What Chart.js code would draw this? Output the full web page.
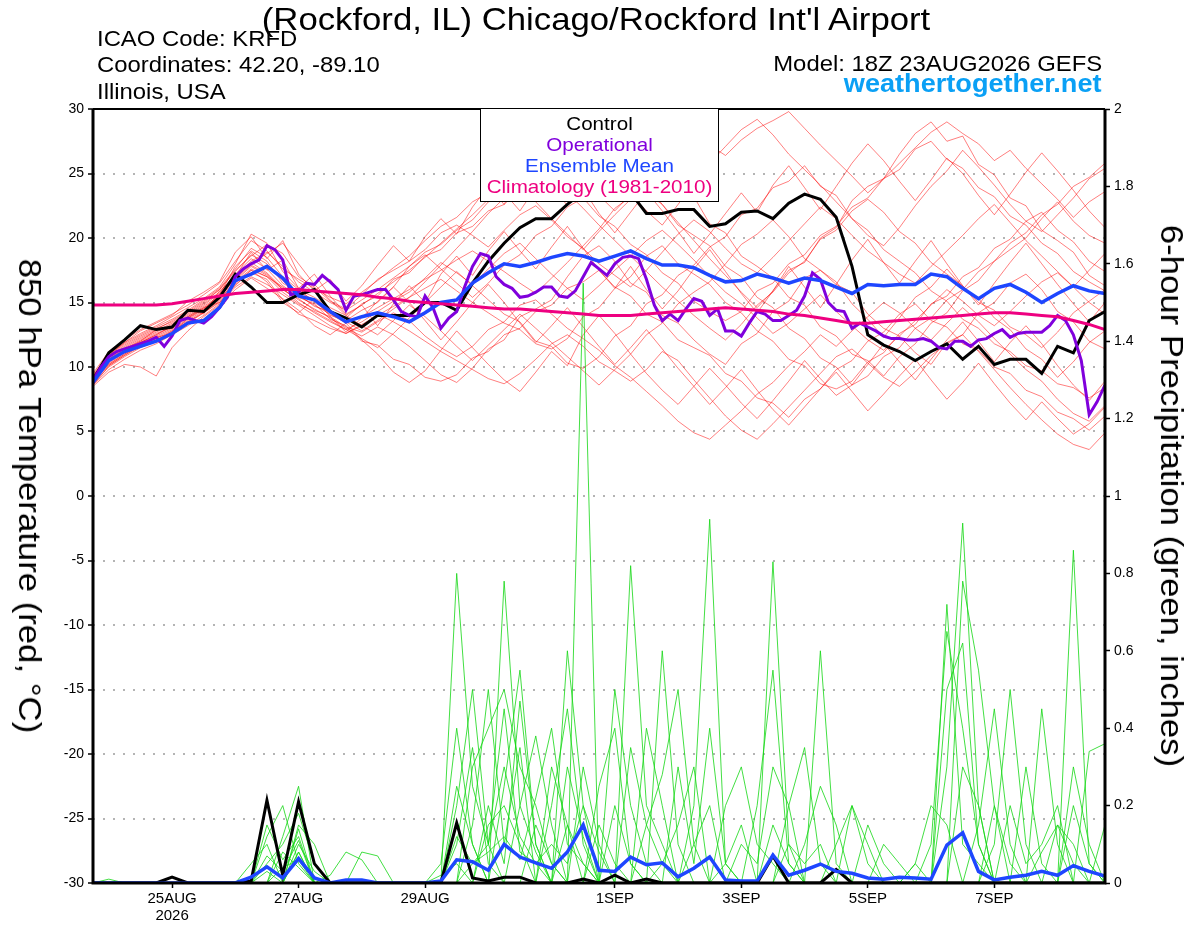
<!DOCTYPE html>
<html>
<head>
<meta charset="utf-8">
<title>KRFD GEFS meteogram</title>
<script src="https://cdn.jsdelivr.net/npm/chart.js@4.4.1/dist/chart.umd.min.js"></script>
<style>
  body { margin: 0; background: #fff; font-family: "Liberation Sans", Arial, sans-serif; }
  #wrap { position: relative; width: 1200px; height: 927px; overflow: hidden; }
  #chart { position: absolute; left: 0; top: 0; }
  .t { position: absolute; white-space: nowrap; line-height: 1; color: #000; }
  .left { transform-origin: left center; transform: scaleX(1.085); }
  .right { transform-origin: right center; transform: scaleX(1.085); text-align: right; }
  .rot { position: absolute; white-space: nowrap; line-height: 1; font-size: 32px;
         transform: translate(-50%, -50%) rotate(90deg) scaleX(1.085); }
  #legend { position: absolute; left: 480px; top: 108px; width: 237px; height: 88px;
            background: #fff; border: 1px solid #000; padding-top: 4px; }
  #legend div { font-size: 19px; line-height: 21px; text-align: center; transform: scaleX(1.085); white-space: nowrap; }
</style>
</head>
<body>
<div id="wrap">
  <canvas id="chart" width="1200" height="927"></canvas>

  <div class="t" style="left:596px;top:3px;font-size:32px;transform:translateX(-50%) scaleX(1.085);">(Rockford, IL) Chicago/Rockford Int'l Airport</div>
  <div class="t left" style="left:97px;top:28px;font-size:22px;">ICAO Code: KRFD</div>
  <div class="t left" style="left:97px;top:54px;font-size:22px;">Coordinates: 42.20, -89.10</div>
  <div class="t left" style="left:97px;top:81px;font-size:22px;">Illinois, USA</div>
  <div class="t right" style="right:98px;top:53px;font-size:22px;">Model: 18Z 23AUG2026 GEFS</div>
  <div class="t right" style="right:98px;top:71px;font-size:25px;font-weight:bold;color:#0aa0f5;">weathertogether.net</div>

  <div class="rot" style="left:30px;top:496px;">850 hPa Temperature (red, °C)</div>
  <div class="rot" style="left:1172px;top:496px;">6-hour Precipitation (green, inches)</div>

  <div id="legend">
    <div style="color:#000;">Control</div>
    <div style="color:#8000dc;">Operational</div>
    <div style="color:#1e46ff;">Ensemble Mean</div>
    <div style="color:#ee0080;">Climatology (1981-2010)</div>
  </div>
</div>

<script>
// forecast hours: 6-hourly from 18Z 23AUG2026 (operational run is 3-hourly)
const tickHours = [30, 78, 126, 198, 246, 294, 342];
const tickLabels = ['25AUG', '27AUG', '29AUG', '1SEP', '3SEP', '5SEP', '7SEP'];
const tickYear = '2026';

// 850 hPa temperature, deg C
const controlTemp = [
  9.0, 11.1, 12.1, 13.2, 12.9, 13.1, 14.4, 14.3, 15.4, 17.2, 16.2, 15.0, 15.0,
  15.6, 16.0, 14.3, 13.8, 13.1, 14.0, 14.0, 14.0, 15.0, 15.0, 14.4, 16.5, 18.2,
  19.6, 20.8, 21.5, 21.5, 22.6, 23.6, 24.6, 24.2, 23.5, 21.9, 21.9, 22.2, 22.2,
  20.9, 21.1, 22.0, 22.1, 21.5, 22.7, 23.4, 23.0, 21.6, 17.8, 12.5, 11.7, 11.2,
  10.5, 11.2, 11.8, 10.6, 11.6, 10.2, 10.6, 10.6, 9.5, 11.6, 11.1, 13.6, 14.3
];
const operationalTemp = [
  9.0, 10.0, 10.8, 11.2, 11.4, 11.6, 11.8, 12.0, 12.3, 11.6, 12.4, 13.6, 13.8, 13.6, 13.4, 13.9,
  14.6, 15.4, 17.0, 17.6, 18.0, 18.3, 19.4, 19.1, 18.3, 15.6, 15.8, 16.5, 16.4, 17.1, 16.6, 16.0,
  14.4, 15.5, 15.6, 15.8, 16.0, 16.0, 15.2, 14.3, 14.0, 13.9, 15.5, 14.6, 13.0, 13.8, 14.3, 16.2,
  17.8, 18.8, 18.6, 17.0, 16.4, 16.1, 15.4, 15.5, 15.8, 16.2, 16.2, 15.5, 15.4, 15.9, 17.0, 18.1,
  17.6, 17.1, 18.0, 18.5, 18.6, 18.4, 16.8, 14.8, 13.6, 14.1, 13.6, 14.5, 15.3, 15.1, 14.0, 14.5,
  12.8, 12.8, 12.4, 13.4, 14.3, 14.1, 13.6, 13.6, 14.0, 14.4, 15.5, 17.3, 16.8, 15.0, 14.4, 14.3,
  13.0, 13.4, 13.1, 12.8, 12.4, 12.2, 12.2, 12.1, 12.1, 12.2, 12.0, 11.5, 11.4, 12.0, 12.0, 11.6,
  12.1, 12.2, 12.6, 12.9, 12.3, 12.6, 12.7, 12.7, 12.7, 13.2, 14.0, 13.6, 12.5, 10.5, 6.3, 7.3,
  8.6
];
const meanTemp = [
  8.8, 10.5, 11.2, 11.6, 12.0, 12.6, 13.4, 13.6, 14.6, 16.7, 17.2, 17.8, 16.9,
  15.5, 15.2, 14.3, 13.5, 13.9, 14.2, 13.9, 13.5, 14.2, 15.0, 15.2, 16.5, 17.3,
  18.0, 17.8, 18.1, 18.5, 18.8, 18.6, 18.2, 18.6, 19.0, 18.4, 17.9, 17.9, 17.7,
  17.1, 16.6, 16.7, 17.2, 16.9, 16.5, 16.9, 16.7, 16.2, 15.7, 16.4, 16.3, 16.4,
  16.4, 17.2, 17.0, 16.1, 15.3, 16.1, 16.4, 15.8, 15.0, 15.7, 16.3, 15.9, 15.7
];
const climoTemp = [
  14.8, 14.8, 14.8, 14.8, 14.8, 14.9, 15.1, 15.3, 15.5, 15.7, 15.8, 15.9, 16.0,
  16.0, 15.9, 15.8, 15.7, 15.6, 15.4, 15.3, 15.1, 15.0, 14.9, 14.8, 14.7, 14.6,
  14.5, 14.5, 14.4, 14.3, 14.2, 14.1, 14.0, 14.0, 14.0, 14.1, 14.2, 14.3, 14.4,
  14.5, 14.6, 14.5, 14.4, 14.3, 14.1, 14.0, 13.8, 13.6, 13.4, 13.4, 13.5, 13.6,
  13.7, 13.8, 13.9, 14.0, 14.1, 14.2, 14.2, 14.1, 14.0, 13.9, 13.6, 13.3, 12.9
];

// ensemble members, 850 hPa temperature
const memberT01 = [
  9.2, 10.5, 11.3, 12.0, 12.6, 13.1, 13.8, 14.5, 15.6, 17.8, 19.0, 18.2, 16.5,
  15.8, 15.2, 14.0, 13.6, 14.4, 15.0, 16.2, 17.8, 18.9, 19.5, 20.6, 21.4, 22.8,
  23.5, 22.1, 23.9, 24.6, 23.2, 25.1, 26.3, 25.0, 23.4, 22.1, 21.0, 22.6, 24.3,
  25.8, 27.1, 28.4, 29.2, 28.0, 26.5, 25.3, 24.1, 22.8, 21.5, 20.2, 19.4, 20.8,
  22.5, 24.0, 25.2, 26.8, 25.5, 24.1, 22.6, 21.3, 20.5, 21.8, 23.1, 24.6, 25.4
];
const memberT02 = [
  8.7, 10.0, 10.8, 11.5, 12.0, 12.8, 13.5, 14.2, 15.0, 16.4, 17.3, 16.8, 15.2,
  14.1, 13.6, 13.0, 12.6, 13.2, 14.1, 13.5, 12.8, 12.0, 11.2, 10.5, 9.8, 9.1,
  8.7, 9.5, 10.6, 11.8, 12.5, 11.6, 10.4, 9.7, 8.9, 9.8, 11.2, 10.5, 9.0,
  7.6, 6.2, 5.1, 4.4, 5.6, 6.9, 8.2, 9.5, 10.8, 11.4, 10.3, 9.2, 8.5,
  9.6, 10.9, 11.8, 12.5, 11.2, 9.8, 8.4, 7.1, 5.9, 4.8, 4.0, 3.6, 4.9
];
const memberT03 = [
  9.0, 10.8, 11.7, 12.4, 13.0, 13.5, 14.2, 15.0, 16.0, 17.5, 18.6, 19.5, 18.8,
  17.0, 16.2, 15.1, 14.5, 15.6, 16.8, 17.5, 18.2, 19.1, 20.4, 21.0, 20.2, 19.3,
  20.6, 21.8, 22.5, 21.4, 20.1, 19.2, 18.0, 17.1, 16.2, 17.5, 18.9, 20.3, 21.4,
  20.5, 19.2, 18.0, 17.3, 18.5, 19.8, 21.1, 22.4, 21.5, 20.2, 19.0, 18.1, 17.2,
  16.5, 17.8, 19.0, 20.2, 21.5, 22.6, 21.2, 19.8, 18.6, 17.4, 16.2, 17.5, 18.8
];
const memberT04 = [
  9.4, 11.0, 11.9, 12.6, 13.2, 13.9, 14.6, 15.3, 16.2, 18.0, 20.3, 19.6, 17.4,
  16.1, 15.0, 14.2, 13.5, 12.8, 13.6, 14.5, 15.4, 16.6, 17.9, 19.2, 20.5, 21.9,
  23.1, 24.2, 22.8, 21.5, 20.3, 19.1, 20.5, 21.8, 23.0, 24.1, 22.6, 21.2, 19.8,
  18.4, 17.1, 15.8, 14.6, 15.9, 17.5, 18.1, 20.0, 20.8, 22.9, 24.0, 24.6, 26.5,
  28.1, 29.0, 27.5, 27.9, 25.7, 24.9, 23.1, 22.5, 20.6, 19.8, 18.9, 17.1, 16.3
];
const memberT05 = [
  8.9, 10.2, 11.0, 11.8, 12.3, 12.9, 13.6, 14.4, 15.4, 16.8, 17.9, 17.2, 16.0,
  15.2, 14.5, 13.8, 13.0, 12.4, 13.1, 12.5, 11.6, 10.5, 9.4, 8.8, 9.9, 11.4,
  12.1, 13.9, 14.5, 15.2, 17.0, 18.6, 19.4, 18.2, 16.5, 15.8, 14.0, 13.4, 12.1,
  11.0, 10.2, 11.8, 12.6, 14.3, 15.1, 16.9, 17.5, 16.4, 15.8, 14.1, 13.0, 12.4,
  11.1, 10.2, 11.9, 12.5, 14.2, 15.0, 16.5, 17.2, 16.0, 14.3, 13.5, 12.0, 11.4
];
const memberT06 = [
  9.1, 10.6, 11.5, 12.2, 12.8, 13.4, 14.1, 14.9, 15.8, 17.2, 18.4, 17.6, 16.3,
  15.5, 14.8, 14.1, 13.4, 13.9, 14.6, 15.3, 16.0, 16.8, 17.5, 18.3, 19.0, 18.2,
  17.4, 16.5, 15.7, 16.9, 18.1, 19.4, 20.7, 22.3, 23.2, 24.1, 25.6, 24.3, 23.2,
  21.1, 20.4, 18.6, 17.8, 16.9, 15.4, 14.8, 13.1, 12.4, 11.0, 10.5, 9.3, 10.8,
  11.8, 13.4, 14.2, 15.9, 16.7, 18.2, 19.1, 20.0, 21.5, 22.8, 21.3, 20.2, 19.6
];
const memberT07 = [
  8.8, 10.3, 11.1, 11.9, 12.5, 13.2, 13.9, 14.7, 15.5, 16.9, 18.0, 18.8, 19.6,
  18.0, 16.4, 15.2, 14.0, 13.2, 12.5, 13.6, 14.8, 13.9, 12.8, 11.6, 10.5, 11.7,
  12.9, 14.1, 13.0, 11.9, 10.8, 9.7, 8.6, 9.8, 11.0, 12.5, 13.4, 14.9, 15.8,
  16.6, 18.0, 19.5, 20.3, 21.4, 20.1, 18.4, 17.5, 16.6, 14.9, 13.7, 12.3, 13.8,
  15.4, 16.2, 17.6, 16.2, 15.3, 13.8, 12.9, 11.4, 10.6, 9.2, 10.4, 11.9, 12.8
];
const memberT08 = [
  9.3, 10.9, 11.8, 12.5, 13.1, 13.7, 14.4, 15.2, 16.1, 17.6, 19.2, 18.5, 17.0,
  16.0, 15.4, 14.6, 14.0, 14.8, 15.7, 16.6, 17.5, 18.5, 19.6, 20.7, 21.8, 23.0,
  24.1, 25.2, 26.0, 24.8, 23.5, 22.3, 21.0, 19.8, 18.6, 17.4, 16.2, 15.1, 14.0,
  13.0, 12.1, 13.3, 14.8, 15.8, 17.3, 18.2, 19.9, 20.6, 22.1, 23.0, 22.0, 20.5,
  19.6, 18.1, 17.2, 16.3, 15.0, 14.4, 13.1, 12.5, 11.5, 12.7, 14.2, 15.1, 16.0
];
const memberT09 = [
  9.0, 10.4, 11.2, 11.9, 12.4, 13.0, 13.7, 14.5, 15.3, 16.6, 17.6, 17.0, 15.8,
  14.9, 14.3, 13.6, 12.9, 12.2, 11.5, 12.6, 13.8, 15.0, 16.2, 17.4, 16.3, 15.2,
  14.1, 13.5, 12.0, 11.6, 10.3, 9.9, 10.8, 12.4, 13.2, 14.9, 15.6, 17.1, 17.9,
  19.3, 20.1, 21.8, 22.3, 23.9, 24.4, 25.6, 24.0, 23.3, 21.5, 20.6, 19.1, 18.2,
  17.3, 15.9, 15.1, 13.7, 13.0, 11.8, 11.2, 10.1, 9.7, 8.7, 8.4, 7.6, 8.4
];
const memberT10 = [
  8.6, 9.8, 10.6, 11.3, 11.8, 12.5, 13.2, 14.0, 14.9, 16.2, 17.0, 16.4, 15.6,
  14.8, 14.0, 13.2, 12.6, 13.3, 14.0, 14.7, 15.4, 16.1, 16.8, 15.9, 15.0, 14.2,
  13.4, 12.9, 11.8, 11.4, 12.2, 13.9, 14.6, 16.1, 17.0, 18.6, 19.4, 18.0, 17.2,
  16.4, 15.0, 14.2, 12.8, 12.0, 10.6, 10.1, 8.7, 8.3, 8.9, 10.4, 11.1, 12.6,
  13.3, 14.9, 15.5, 17.0, 17.7, 19.2, 19.9, 21.3, 22.0, 20.6, 19.7, 18.2, 17.4
];
const memberT11 = [
  9.2, 10.7, 11.6, 12.3, 12.9, 13.6, 14.3, 15.1, 16.0, 17.4, 18.7, 18.0, 16.7,
  15.6, 14.7, 14.3, 13.8, 14.9, 15.5, 16.8, 17.3, 18.6, 19.1, 20.4, 20.9, 22.1,
  22.6, 23.8, 24.2, 25.4, 25.8, 26.9, 27.4, 26.0, 25.0, 23.5, 22.6, 21.0, 20.2,
  19.4, 17.8, 17.0, 15.4, 14.6, 13.0, 12.2, 10.7, 10.0, 8.6, 9.3, 10.8, 11.5,
  13.0, 13.8, 15.2, 16.0, 17.4, 18.2, 19.6, 20.4, 21.8, 22.6, 24.0, 24.7, 25.8
];
const memberT12 = [
  8.9, 10.1, 10.9, 11.6, 12.1, 12.7, 13.4, 14.2, 15.1, 16.5, 17.5, 17.0, 16.2,
  15.4, 14.9, 13.7, 13.2, 12.0, 11.7, 10.6, 10.2, 9.2, 8.9, 9.4, 10.7, 11.2,
  12.5, 13.0, 14.3, 14.8, 16.1, 16.6, 17.5, 16.2, 15.5, 14.1, 13.5, 12.1, 11.5,
  10.9, 9.5, 8.9, 7.6, 7.2, 6.1, 7.5, 8.3, 9.8, 10.5, 12.0, 12.7, 14.1,
  14.9, 13.6, 13.1, 11.8, 11.3, 10.0, 9.5, 8.2, 7.7, 6.5, 6.0, 5.1, 6.2
];
const memberT13 = [
  9.1, 10.5, 11.4, 12.1, 12.7, 13.3, 14.0, 14.8, 15.7, 17.1, 18.2, 18.9, 17.8,
  16.6, 15.8, 15.0, 14.4, 15.2, 16.0, 16.9, 17.8, 18.7, 17.6, 16.5, 15.4, 16.5,
  17.9, 18.7, 20.2, 20.9, 22.4, 23.1, 21.7, 20.9, 19.5, 18.7, 17.3, 16.5, 15.1,
  14.3, 13.6, 14.3, 15.9, 16.5, 18.0, 18.7, 20.2, 20.9, 22.4, 23.1, 24.6, 25.3,
  26.9, 27.5, 26.1, 25.4, 23.9, 23.2, 21.7, 21.0, 19.6, 18.8, 17.4, 16.6, 15.9
];
const memberT14 = [
  9.0, 10.2, 11.0, 11.7, 12.2, 12.8, 13.5, 14.3, 15.2, 16.7, 17.8, 17.1, 16.0,
  15.3, 14.4, 13.9, 13.1, 12.7, 13.5, 14.2, 13.6, 12.4, 11.5, 10.8, 11.6, 12.9,
  13.5, 14.8, 15.2, 14.1, 13.0, 12.2, 11.3, 10.1, 9.2, 8.1, 7.0, 5.8, 4.9,
  4.4, 5.5, 6.6, 7.9, 8.8, 10.1, 11.2, 12.5, 11.6, 12.8, 13.9, 15.0, 14.2,
  13.0, 12.1, 13.4, 14.6, 13.5, 12.2, 11.0, 9.8, 8.9, 7.5, 6.4, 5.8, 7.0
];
const memberT15 = [
  9.5, 11.2, 12.1, 12.9, 13.5, 14.1, 14.8, 15.6, 16.5, 18.2, 19.8, 19.0, 17.6,
  16.8, 16.1, 15.4, 14.9, 15.8, 16.7, 17.7, 18.6, 19.8, 20.9, 21.6, 22.8, 23.5,
  24.4, 23.6, 22.9, 24.0, 25.2, 24.5, 23.3, 22.1, 23.4, 24.8, 25.9, 27.0, 28.1,
  27.2, 26.4, 27.6, 28.5, 29.1, 29.8, 28.5, 27.2, 26.0, 24.8, 23.5, 24.6, 25.8,
  27.0, 28.2, 29.0, 28.1, 27.3, 26.0, 26.8, 25.4, 24.2, 23.0, 21.6, 22.8, 23.6
];
const memberT16 = [
  8.8, 10.4, 11.2, 11.9, 12.5, 13.1, 13.9, 14.6, 15.4, 16.9, 18.1, 17.3, 16.1,
  15.0, 14.2, 13.5, 12.9, 13.5, 14.3, 15.1, 15.8, 16.9, 18.1, 17.3, 16.4, 17.6,
  18.8, 19.6, 18.4, 17.2, 16.1, 15.2, 16.3, 17.5, 18.6, 19.8, 20.6, 19.5, 18.3,
  17.0, 15.8, 14.9, 13.8, 12.6, 13.4, 14.5, 15.6, 14.3, 13.2, 12.1, 11.3, 12.4,
  13.6, 14.8, 16.0, 15.1, 14.0, 13.2, 14.3, 15.5, 16.6, 17.3, 16.2, 15.0, 14.1
];
const memberT17 = [
  8.5, 9.6, 10.2, 10.0, 9.3, 11.5, 12.8, 13.9, 14.8, 16.0, 16.9, 16.1, 15.3,
  14.4, 13.2, 12.5, 13.4, 12.1, 11.0, 9.6, 8.8, 9.7, 11.3, 12.8, 11.5, 10.2,
  9.0, 8.1, 9.6, 11.2, 10.1, 12.5, 14.0, 12.6, 11.0, 9.5, 8.2, 7.1, 8.5,
  9.9, 8.6, 7.2, 6.0, 7.4, 8.9, 10.5, 9.1, 7.8, 8.6, 10.2, 11.8, 10.4,
  9.0, 10.6, 12.1, 13.5, 12.0, 10.4, 11.9, 13.2, 11.8, 10.1, 8.6, 7.4, 8.9
];
const memberT18 = [
  9.3, 10.9, 11.9, 12.8, 13.4, 14.0, 15.1, 15.8, 16.6, 18.9, 20.1, 18.4, 19.8,
  17.2, 15.9, 16.8, 15.1, 16.3, 17.9, 19.4, 18.2, 20.1, 21.5, 20.3, 22.4, 24.0,
  22.6, 24.8, 25.9, 24.1, 22.5, 23.8, 21.9, 20.4, 22.0, 23.6, 22.1, 20.5, 18.8,
  20.3, 21.9, 23.5, 22.0, 24.1, 25.6, 23.9, 22.2, 24.0, 25.8, 27.3, 26.0, 24.4,
  22.9, 24.5, 26.2, 25.0, 23.3, 21.8, 23.4, 25.1, 26.6, 25.2, 23.7, 22.1, 20.8
];
const memberT19 = [
  9.0, 10.6, 11.4, 12.0, 12.9, 13.0, 14.5, 14.1, 15.9, 17.0, 18.9, 17.5, 18.3,
  16.1, 17.2, 15.5, 14.1, 14.8, 13.2, 14.9, 16.3, 15.0, 17.2, 18.6, 17.1, 19.0,
  20.5, 19.0, 17.6, 19.3, 20.9, 19.2, 17.5, 16.1, 17.8, 16.0, 14.5, 15.9, 17.6,
  19.1, 17.4, 15.7, 14.2, 15.9, 17.8, 16.2, 14.6, 16.4, 18.3, 19.9, 18.1, 16.5,
  18.2, 19.8, 18.0, 16.3, 14.8, 16.5, 18.1, 19.6, 18.0, 16.4, 14.9, 13.5, 15.0
];
const memberT20 = [
  8.6, 10.1, 10.9, 11.7, 12.3, 12.6, 13.8, 14.6, 15.0, 16.3, 17.5, 16.6, 15.0,
  14.2, 15.3, 13.9, 12.7, 13.8, 15.1, 16.2, 15.0, 13.6, 12.1, 13.5, 15.0, 16.4,
  15.0, 13.4, 11.9, 13.2, 14.6, 13.1, 11.6, 10.2, 11.5, 12.9, 11.4, 9.9, 8.5,
  7.1, 8.4, 9.8, 8.2, 6.7, 5.5, 6.9, 8.3, 9.6, 8.1, 6.6, 7.9, 9.3,
  10.6, 9.0, 7.5, 8.8, 10.3, 8.7, 7.2, 5.9, 7.3, 6.0, 4.8, 5.6, 6.9
];

// 6-hour precipitation, inches
const controlPrecip = [
  0, 0, 0, 0, 0, 0.015, 0, 0, 0, 0, 0.005, 0.214, 0.02,
  0.21, 0.05, 0, 0, 0, 0, 0, 0, 0, 0, 0.155, 0.013, 0.005,
  0.015, 0.015, 0, 0, 0, 0.01, 0, 0.02, 0, 0.01, 0, 0, 0,
  0, 0, 0, 0, 0.07, 0, 0, 0, 0.035, 0, 0, 0, 0,
  0, 0, 0, 0, 0, 0, 0, 0, 0, 0, 0, 0, 0
];
const meanPrecip = [
  0, 0, 0, 0, 0, 0, 0, 0, 0, 0, 0.015, 0.042, 0.013,
  0.063, 0.013, 0, 0.008, 0.008, 0, 0, 0, 0, 0.005, 0.06, 0.055, 0.033,
  0.10, 0.067, 0.052, 0.038, 0.08, 0.15, 0.033, 0.03, 0.067, 0.047, 0.052, 0.016, 0.038,
  0.067, 0.008, 0.005, 0.005, 0.072, 0.02, 0.033, 0.049, 0.03, 0.025, 0.013, 0.01, 0.015,
  0.013, 0.01, 0.098, 0.13, 0.03, 0.008, 0.015, 0.02, 0.03, 0.02, 0.045, 0.03, 0.018
];

// ensemble members, 6-hour precipitation
const memberP01 = [
  0, 0, 0, 0, 0, 0, 0, 0, 0, 0, 0, 0.05, 0.1,
  0.18, 0.05, 0, 0, 0, 0, 0, 0, 0, 0, 0.8, 0.25, 0.1,
  0.3, 0.12, 0.05, 0.1, 0.05, 0.2, 0.08, 0, 0, 0, 0, 0, 0,
  0, 0, 0, 0, 0.83, 0.1, 0, 0, 0, 0, 0, 0, 0,
  0, 0, 0.3, 0.93, 0.2, 0, 0, 0, 0, 0, 0, 0, 0
];
const memberP02 = [
  0, 0, 0, 0, 0, 0, 0, 0, 0, 0, 0, 0, 0.12,
  0.25, 0, 0, 0, 0, 0, 0, 0, 0, 0, 0, 0.15, 0.5,
  0.1, 0.35, 0, 0, 0, 1.55, 0, 0, 0.82, 0.2, 0.1, 0, 0,
  0, 0, 0, 0, 0, 0, 0, 0.6, 0.05, 0, 0, 0, 0,
  0, 0, 0, 0, 0, 0, 0, 0, 0, 0, 0.86, 0.05, 0
];
const memberP03 = [
  0, 0, 0, 0, 0, 0, 0, 0, 0, 0, 0, 0.15, 0.06,
  0.12, 0, 0, 0, 0, 0, 0, 0, 0, 0, 0.25, 0.1, 0,
  0.78, 0.2, 0.38, 0.15, 0, 0, 0, 0.2, 0.05, 0, 0.6, 0.1, 0,
  0, 0, 0, 0, 0, 0, 0, 0, 0, 0, 0, 0, 0,
  0, 0.1, 0.65, 0.4, 0.1, 0, 0, 0, 0.45, 0.1, 0, 0, 0
];
const memberP04 = [
  0, 0.01, 0, 0, 0, 0, 0, 0, 0, 0, 0.05, 0.1, 0,
  0.08, 0, 0, 0, 0, 0, 0, 0, 0, 0.02, 0.05, 0, 0.2,
  0.05, 0.47, 0.1, 0, 0.3, 0.12, 0, 0, 0, 0, 0, 0, 0.2,
  0.94, 0.05, 0, 0, 0, 0, 0, 0, 0, 0, 0.15, 0.05, 0,
  0, 0, 0, 0, 0, 0.1, 0.5, 0.1, 0, 0, 0, 0, 0
];
const memberP05 = [
  0, 0, 0, 0, 0, 0, 0, 0, 0, 0, 0, 0, 0,
  0.15, 0.1, 0, 0, 0, 0, 0, 0, 0, 0, 0, 0.3, 0.4,
  0.5, 0.3, 0.2, 0.05, 0, 0, 0.25, 0.4, 0.05, 0, 0, 0, 0,
  0, 0, 0.1, 0.05, 0.3, 0.2, 0, 0, 0, 0, 0, 0, 0,
  0, 0, 0.72, 0.1, 0.05, 0, 0, 0, 0, 0, 0, 0.34, 0.36
];
const memberP06 = [
  0, 0, 0, 0, 0, 0, 0, 0, 0, 0, 0, 0.07, 0.03,
  0.11, 0, 0, 0, 0, 0, 0, 0, 0, 0, 0.12, 0.05, 0.08,
  0.12, 0.06, 0.22, 0.4, 0.1, 0.05, 0, 0, 0, 0.15, 0.28, 0.5, 0.1,
  0, 0, 0, 0, 0, 0, 0.1, 0.25, 0.15, 0, 0, 0, 0,
  0, 0, 0, 0.78, 0.55, 0.2, 0, 0, 0, 0.15, 0.05, 0, 0
];
const memberP07 = [
  0, 0, 0, 0, 0, 0, 0, 0, 0, 0, 0, 0, 0,
  0.08, 0, 0.02, 0.08, 0.06, 0, 0, 0, 0, 0, 0, 0.05, 0.1,
  0.45, 0.08, 0.05, 0, 0.6, 0.2, 0, 0, 0, 0, 0, 0.3, 0.05,
  0.4, 0.05, 0, 0, 0, 0.2, 0.35, 0.05, 0, 0, 0, 0, 0,
  0.05, 0.2, 0.15, 0, 0, 0, 0, 0.3, 0.05, 0, 0, 0, 0
];
const memberP08 = [
  0, 0, 0, 0, 0, 0, 0, 0, 0, 0, 0, 0, 0.04,
  0.06, 0, 0, 0, 0, 0, 0, 0, 0, 0, 0.1, 0.35, 0.05,
  0, 0, 0, 0.2, 0.45, 0.1, 0, 0.5, 0.2, 0.05, 0, 0, 0,
  0, 0.2, 0.3, 0.1, 0.05, 0, 0, 0, 0, 0.2, 0.1, 0, 0,
  0, 0, 0, 0, 0.15, 0.45, 0.1, 0, 0, 0, 0.2, 0.05, 0
];
const memberP09 = [
  0, 0, 0, 0, 0, 0, 0, 0, 0, 0, 0, 0.03, 0,
  0.14, 0, 0, 0, 0, 0, 0, 0, 0, 0.05, 0.4, 0.1, 0,
  0, 0.2, 0.08, 0, 0, 0.3, 0.1, 0, 0, 0, 0.05, 0.15, 0.3,
  0, 0, 0, 0.2, 0.55, 0.05, 0, 0, 0.1, 0.2, 0.05, 0, 0,
  0, 0, 0.5, 0.62, 0.1, 0, 0, 0, 0.08, 0.15, 0.1, 0, 0
];
const memberP10 = [
  0, 0, 0, 0, 0, 0, 0, 0, 0, 0, 0, 0, 0,
  0.1, 0.03, 0, 0, 0.08, 0.07, 0, 0, 0, 0, 0, 0, 0.15,
  0.2, 0.1, 0, 0.3, 0.15, 0, 0, 0, 0.35, 0.15, 0.05, 0, 0,
  0, 0, 0, 0, 0, 0.1, 0.05, 0.1, 0, 0, 0, 0, 0,
  0.05, 0, 0, 0, 0, 0, 0.2, 0.05, 0.1, 0.2, 0, 0, 0
];
const memberP11 = [
  0, 0, 0, 0, 0, 0, 0, 0, 0, 0, 0, 0, 0.08,
  0.04, 0, 0, 0, 0, 0, 0, 0, 0, 0, 0.2, 0.5, 0.1,
  0, 0, 0.15, 0.05, 0, 0, 0.15, 0.05, 0, 0, 0, 0, 0.1,
  0.2, 0, 0, 0, 0.15, 0.05, 0, 0, 0, 0, 0, 0, 0,
  0, 0, 0, 0.3, 0.2, 0, 0, 0, 0, 0, 0.3, 0.1, 0
];
const memberP12 = [
  0, 0, 0, 0, 0, 0, 0, 0, 0, 0, 0, 0.12, 0.2,
  0.05, 0, 0, 0, 0, 0, 0, 0, 0, 0, 0, 0, 0,
  0.25, 0.55, 0.1, 0, 0.15, 0.05, 0, 0, 0, 0.4, 0.2, 0, 0,
  0, 0.05, 0.15, 0, 0, 0, 0, 0, 0, 0, 0, 0.1, 0.05,
  0, 0, 0, 0, 0, 0.2, 0.05, 0, 0, 0, 0, 0, 0.15
];

const tempMembers = [memberT01, memberT02, memberT03, memberT04, memberT05, memberT06, memberT07,
                     memberT08, memberT09, memberT10, memberT11, memberT12, memberT13, memberT14,
                     memberT15, memberT16, memberT17, memberT18, memberT19, memberT20];
const precipMembers = [memberP01, memberP02, memberP03, memberP04, memberP05, memberP06,
                       memberP07, memberP08, memberP09, memberP10, memberP11, memberP12];

function series(values, step, color, width, axis, order) {
  return {
    data: values.map((v, i) => ({ x: i * step, y: v })),
    borderColor: color,
    borderWidth: width,
    yAxisID: axis,
    order: order,
    pointRadius: 0,
    fill: false,
    tension: 0
  };
}

const datasets = [
  series(climoTemp, 6, '#ee0080', 3, 'y', 1),
  series(meanTemp, 6, '#1e46ff', 3.5, 'y', 2),
  series(meanPrecip, 6, '#1e46ff', 3.5, 'y1', 2),
  series(operationalTemp, 3, '#8000dc', 3, 'y', 3),
  series(controlTemp, 6, '#000000', 3, 'y', 4),
  series(controlPrecip, 6, '#000000', 3, 'y1', 4)
];
precipMembers.forEach(m => datasets.push(series(m, 6, 'rgba(20,215,20,0.8)', 1, 'y1', 19)));
tempMembers.forEach(m => datasets.push(series(m, 6, 'rgba(255,0,0,0.5)', 1, 'y', 20)));

const frame = {
  id: 'frame',
  afterDatasetsDraw(chart) {
    const { ctx, chartArea: a } = chart;
    ctx.save();
    ctx.strokeStyle = '#000';
    ctx.lineWidth = 3;
    ctx.beginPath();
    ctx.moveTo(a.left, a.top);
    ctx.lineTo(a.left, a.bottom);
    ctx.lineTo(a.right, a.bottom);
    ctx.lineTo(a.right, a.top);
    ctx.stroke();
    ctx.lineWidth = 2;
    ctx.beginPath();
    ctx.moveTo(a.left, a.top);
    ctx.lineTo(a.right, a.top);
    ctx.stroke();
    ctx.restore();
  }
};

const tickFont = { family: "'Liberation Sans', Arial, sans-serif", size: 14 };

new Chart(document.getElementById('chart').getContext('2d'), {
  type: 'line',
  data: { datasets: datasets },
  plugins: [frame],
  options: {
    responsive: false,
    animation: false,
    devicePixelRatio: 1,
    layout: { padding: { top: 109, left: 0, right: 0, bottom: 0 } },
    plugins: { legend: { display: false }, tooltip: { enabled: false } },
    scales: {
      x: {
        type: 'linear',
        min: 0,
        max: 384,
        afterBuildTicks: s => { s.ticks = tickHours.map(v => ({ value: v })); },
        afterFit: s => { s.height = 44; s.paddingLeft = 0; s.paddingRight = 0; },
        ticks: {
          autoSkip: false,
          maxRotation: 0,
          padding: 3,
          color: '#000',
          font: { family: "'Liberation Sans', Arial, sans-serif", size: 15, lineHeight: 1.1 },
          callback: v => {
            const k = tickHours.indexOf(v);
            return k === 0 ? [tickLabels[k], tickYear] : tickLabels[k];
          }
        },
        grid: { drawOnChartArea: false, tickLength: 5, tickColor: '#000', tickWidth: 1.5 },
        border: { display: false }
      },
      y: {
        position: 'left',
        min: -30,
        max: 30,
        afterFit: s => { s.width = 93; s.paddingTop = 0; s.paddingBottom = 0; },
        ticks: { stepSize: 5, color: '#000', font: tickFont, padding: 4 },
        grid: { color: '#b4b4b4', lineWidth: 2, tickColor: '#000', tickLength: 5, tickWidth: 1.5 },
        border: { display: false, dash: [2, 8] }
      },
      y1: {
        position: 'right',
        min: 0,
        max: 2,
        afterFit: s => { s.width = 95; s.paddingTop = 0; s.paddingBottom = 0; },
        ticks: { stepSize: 0.2, color: '#000', font: tickFont, padding: 4,
                 callback: v => Math.round(v * 10) / 10 },
        grid: { drawOnChartArea: false, tickColor: '#000', tickLength: 5, tickWidth: 1.5 },
        border: { display: false }
      }
    }
  }
});
</script>
</body>
</html>
